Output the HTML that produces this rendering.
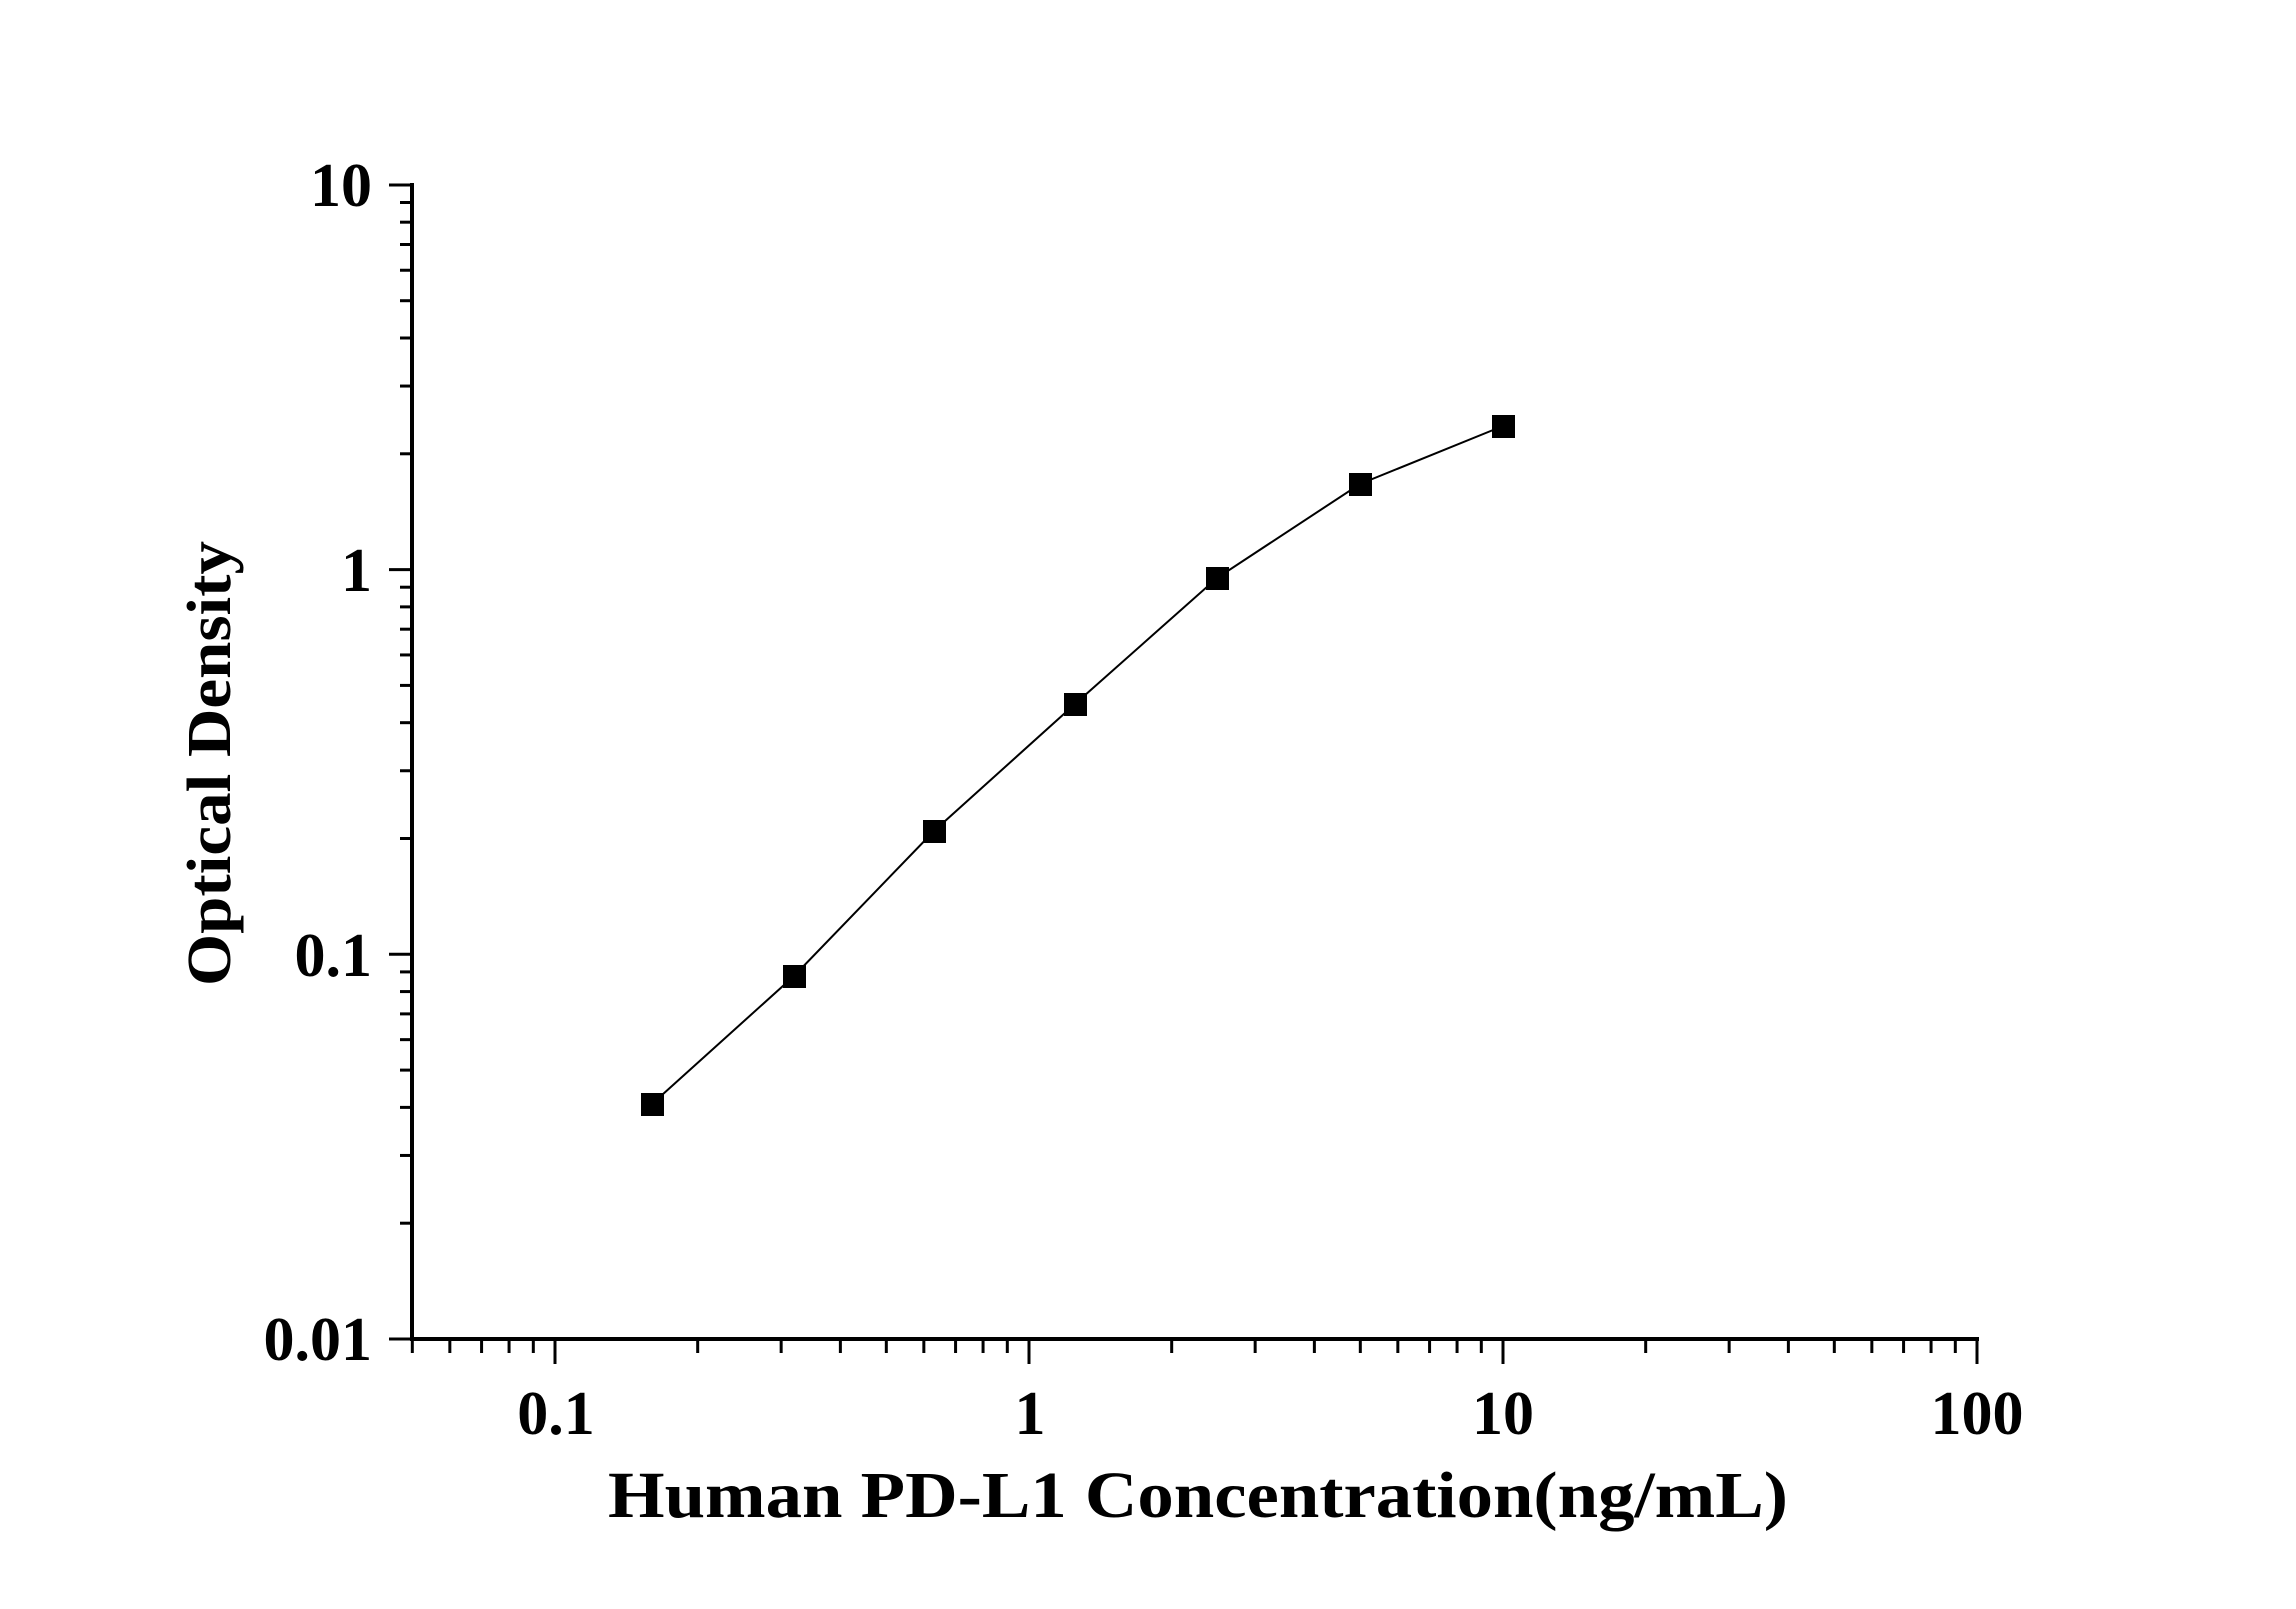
<!DOCTYPE html>
<html><head><meta charset="utf-8"><style>html,body{margin:0;padding:0;background:#fff}</style></head>
<body>
<svg width="2296" height="1604" xmlns="http://www.w3.org/2000/svg" font-family="'Liberation Serif', serif" font-weight="bold">
<rect width="2296" height="1604" fill="#fff"/>
<g id="ticks" stroke="#000" stroke-width="3"></g>
<line x1="412" y1="183" x2="412" y2="1341" stroke="#000" stroke-width="4"/>
<line x1="410" y1="1339" x2="1979" y2="1339" stroke="#000" stroke-width="4"/>
<polyline fill="none" stroke="#000" stroke-width="2" points="652,1104 794,976 934,831 1075,704 1217,578 1360,484 1503,426"/>
<g fill="#000">
<rect x="641" y="1093" width="23" height="23"/><rect x="783" y="965" width="23" height="23"/>
<rect x="923" y="820" width="23" height="23"/><rect x="1064" y="693" width="23" height="23"/>
<rect x="1206" y="567" width="23" height="23"/><rect x="1349" y="473" width="23" height="23"/>
<rect x="1492" y="415" width="23" height="23"/>
</g>
<g font-size="62" text-anchor="end">
<text x="372" y="206">10</text><text x="372" y="591">1</text>
<text x="372" y="976">0.1</text><text x="372" y="1360">0.01</text>
</g>
<g font-size="62" text-anchor="middle">
<text x="556" y="1434">0.1</text><text x="1030" y="1434">1</text>
<text x="1503" y="1434">10</text><text x="1977" y="1434">100</text>
</g>
<text x="608" y="1517" font-size="66" textLength="1180" lengthAdjust="spacingAndGlyphs">Human PD-L1 Concentration(ng/mL)</text>
<text transform="translate(230,986) rotate(-90)" font-size="62" textLength="445" lengthAdjust="spacingAndGlyphs">Optical Density</text>
</svg>
<script>
var g=document.getElementById('ticks'),s='';
function L(a,b,c,d){s+='<line x1="'+a+'" y1="'+b+'" x2="'+c+'" y2="'+d+'"/>';}
var y0=1339,dy=384.7;
for(var e=0;e<3;e++)for(var m=1;m<10;m++){var y=y0-(e+Math.log10(m))*dy;L(412,y,m==1?389:400,y);}
L(412,185,389,185);
var x0=555,dx=474;
for(var e=-2;e<2;e++)for(var m=1;m<10;m++){var v=e+Math.log10(m);var x=x0+(v+1)*dx;if(x<411)continue;L(x,1339,x,m==1?1364:1353);}
L(1977,1339,1977,1364);
g.innerHTML=s;
</script>
</body></html>
